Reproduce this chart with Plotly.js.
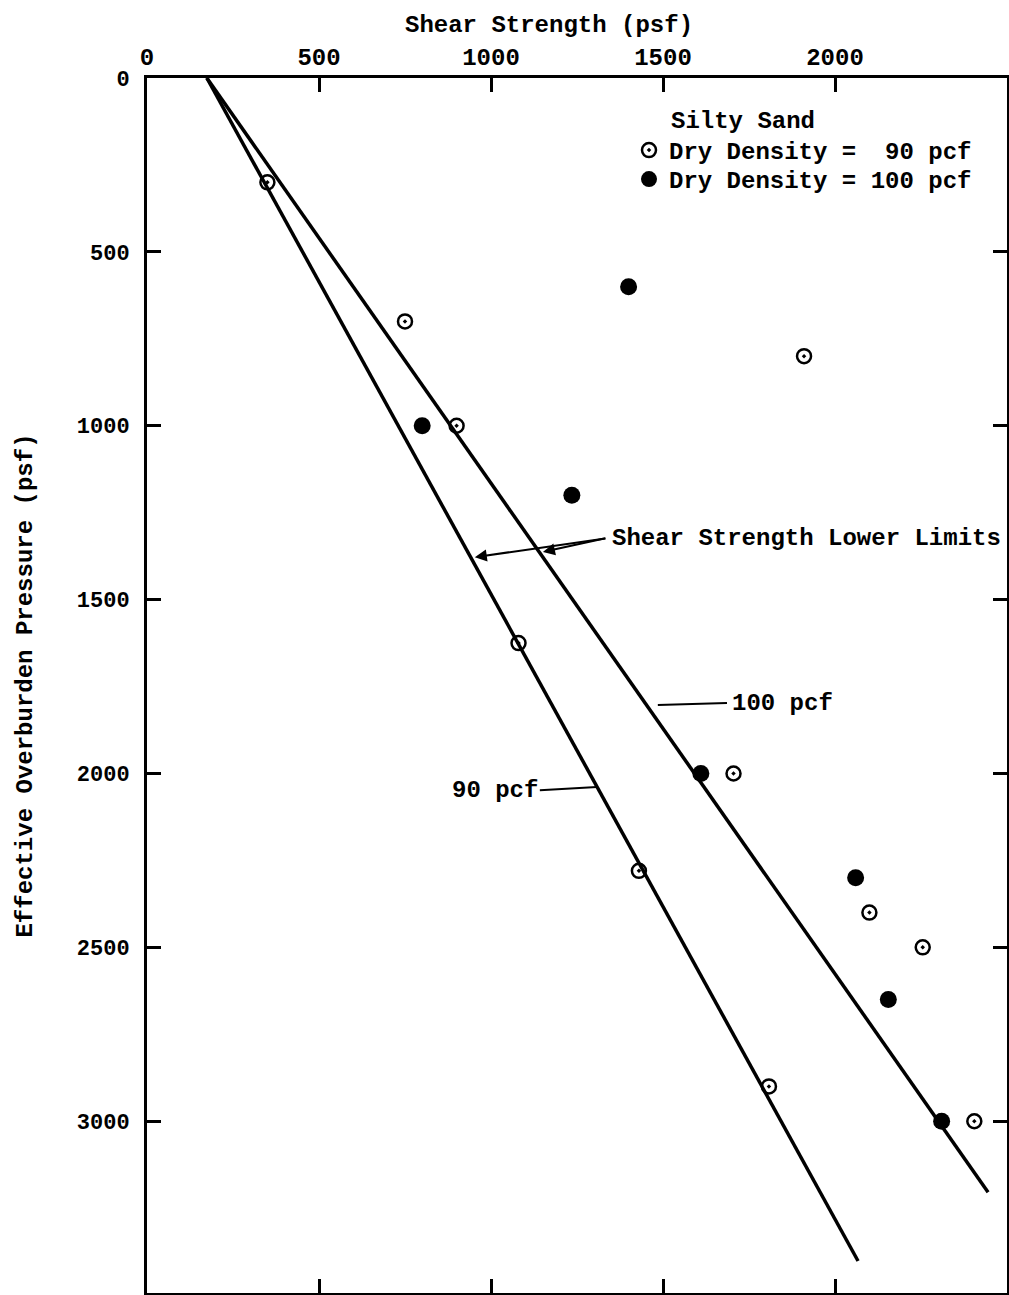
<!DOCTYPE html>
<html>
<head>
<meta charset="utf-8">
<script src="https://cdn.plot.ly/plotly-3.0.1.min.js"></script>
<style>html,body{margin:0;padding:0;background:#fff;}#chart{width:1009px;height:1295px;}</style>
</head>
<body>
<div id="chart"></div>
<script>
// ---- data ----
const xTicks = [0, 500, 1000, 1500, 2000];
const yTicks = [0, 500, 1000, 1500, 2000, 2500, 3000];

// Dry density 90 pcf (open circles)
const open90X = [350, 750, 900, 1080, 1910, 1705, 1430, 2100, 2255, 1808, 2405];
const open90Y = [300, 700, 1000, 1625, 800, 2000, 2280, 2400, 2500, 2900, 3000];

// Dry density 100 pcf (filled circles)
const fill100X = [1400, 800, 1235, 1610, 2060, 2155, 2310];
const fill100Y = [600, 1000, 1200, 2000, 2300, 2650, 3000];

// Shear strength lower limits
const line90X = [174, 2067];
const line90Y = [0, 3402];
const line100X = [174, 2445];
const line100Y = [0, 3204];

const FONT = '"Liberation Mono", "DejaVu Sans Mono", monospace';
const INK = '#000000';

const traces = [
  {x: line90X, y: line90Y, mode: 'lines', line: {color: INK, width: 3.5}, showlegend: false, hoverinfo: 'skip'},
  {x: line100X, y: line100Y, mode: 'lines', line: {color: INK, width: 3.5}, showlegend: false, hoverinfo: 'skip'},
  {x: open90X, y: open90Y, mode: 'markers', name: 'Dry Density =\u00a0 90 pcf', legend: 'legend',
   marker: {symbol: 'circle-open-dot', size: 14, color: INK, line: {color: INK, width: 2.5}}},
  {x: fill100X, y: fill100Y, mode: 'markers', name: 'Dry Density = 100 pcf', legend: 'legend2',
   marker: {symbol: 'circle', size: 17, color: INK}}
];

const axisCommon = {
  showgrid: false, zeroline: false, showline: true, linecolor: INK, linewidth: 3,
  ticks: 'inside', ticklen: 14, tickwidth: 3, tickcolor: INK, mirror: 'ticks',
  tickfont: {family: FONT, size: 22, color: INK, weight: 'bold'}
};

const legendFont = {family: FONT, size: 24, color: INK, weight: 'bold'};
const legendX = (629 - 147) / 860;

const layout = {
  width: 1009, height: 1295,
  margin: {l: 147, r: 2, t: 78, b: 2},
  paper_bgcolor: '#fff', plot_bgcolor: '#fff',
  font: {family: FONT, size: 24, color: INK, weight: 'bold'},
  title: {text: 'Shear Strength (psf)', x: 405 / 1009, xanchor: 'left', xref: 'container',
          y: 1 - 24 / 1295, yanchor: 'middle', yref: 'container',
          font: {family: FONT, size: 24, color: INK, weight: 'bold'}},
  xaxis: Object.assign({}, axisCommon, {range: [0, 2500], side: 'top', tickvals: xTicks,
          ticktext: xTicks.map(String), ticklabelstandoff: 0,
          tickfont: {family: FONT, size: 24, color: INK, weight: 'bold'}}),
  yaxis: Object.assign({}, axisCommon, {range: [3494, 0], tickvals: yTicks,
          ticktext: yTicks.map(String), ticklabelstandoff: 10,
          title: {text: 'Effective Overburden Pressure (psf)', standoff: 38,
                  font: {family: FONT, size: 24, color: INK, weight: 'bold'}}}),
  showlegend: true,
  legend: {x: legendX, xanchor: 'left', y: 1 - (128 - 78) / 1215, yanchor: 'top',
           font: legendFont, bgcolor: 'rgba(0,0,0,0)', itemwidth: 30},
  legend2: {x: legendX, xanchor: 'left', y: 1 - (157 - 78) / 1215, yanchor: 'top',
           font: legendFont, bgcolor: 'rgba(0,0,0,0)', itemwidth: 30},
  annotations: [
    {text: 'Silty Sand', xref: 'paper', yref: 'paper', x: (669 - 147) / 860, y: 1 - (122 - 78) / 1215,
     xanchor: 'left', yanchor: 'middle', showarrow: false},
    {text: 'Shear Strength Lower Limits', xref: 'x', yref: 'y', x: 1345, y: 1323,
     xanchor: 'left', yanchor: 'middle', showarrow: false},
    {text: '', xref: 'x', yref: 'y', x: 953, y: 1378, showarrow: true, ax: 132, ay: -19,
     arrowhead: 2, arrowsize: 1.2, arrowwidth: 2, arrowcolor: INK},
    {text: '', xref: 'x', yref: 'y', x: 1151, y: 1363, showarrow: true, ax: 64, ay: -14,
     arrowhead: 2, arrowsize: 1.2, arrowwidth: 2, arrowcolor: INK},
    {text: '100 pcf', xref: 'x', yref: 'y', x: 1695, y: 1800, xanchor: 'left', yanchor: 'middle', showarrow: false},
    {text: '90 pcf', xref: 'x', yref: 'y', x: 1142, y: 2048, xanchor: 'right', yanchor: 'middle', showarrow: false}
  ],
  shapes: [
    {type: 'line', xref: 'x', yref: 'y', x0: 1485, y0: 1803, x1: 1686, y1: 1797, line: {color: INK, width: 2}},
    {type: 'line', xref: 'x', yref: 'y', x0: 1142, y0: 2048, x1: 1308, y1: 2039, line: {color: INK, width: 2}}
  ]
};

Plotly.newPlot('chart', traces, layout, {displayModeBar: false, staticPlot: true});
</script>
</body>
</html>
